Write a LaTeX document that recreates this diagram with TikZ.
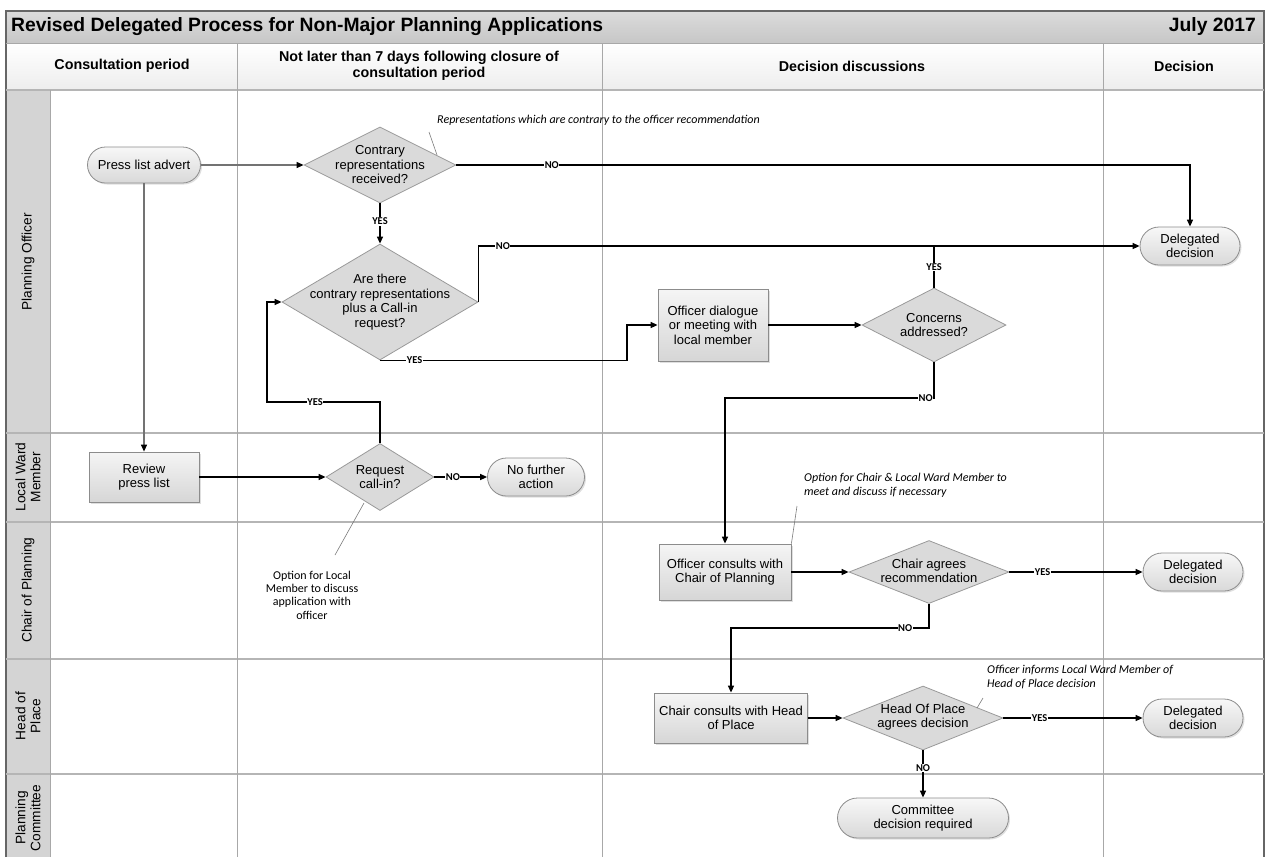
\documentclass[tikz,border=0pt]{standalone}
\usepackage{fontspec}
\setmainfont{Liberation Sans}
\newfontfamily\calfont{Carlito}
\usetikzlibrary{arrows.meta,shapes.geometric,shapes.misc,shadows,calc}
\definecolor{gridc}{HTML}{A8A8A8}
\definecolor{titlec}{HTML}{CFCFCF}
\definecolor{lanec}{HTML}{D4D4D4}
\definecolor{nodeb}{HTML}{8C8C8C}
\definecolor{diac}{HTML}{DADADA}
\definecolor{leadc}{HTML}{7A7A7A}
\tikzset{
  conn/.style={draw=black, line width=1.4pt, -{Triangle[length=7pt,width=6pt]}},
  plainline/.style={draw=black, line width=1.4pt},
  greyconn/.style={draw=black!55, line width=1.1pt, -{Triangle[length=7pt,width=6pt,color=black]}},
  lbl/.style={font=\calfont\bfseries\fontsize{10.5}{11}\selectfont, fill=white, inner sep=0.6pt},
  shadowed/.style={drop shadow={opacity=0.25, shadow xshift=1.5pt, shadow yshift=-1.5pt}},
  boxnode/.style={rectangle, draw=nodeb, line width=0.8pt, top color=black!4, bottom color=black!16, shadowed,
    align=center, font=\fontsize{13}{14.5}\selectfont, inner sep=0pt},
  pill/.style={rounded rectangle, draw=nodeb, line width=0.8pt, top color=black!3, bottom color=black!15, shadowed,
    align=center, font=\fontsize{13}{14.5}\selectfont, inner sep=0pt},
  dia/.style={diamond, draw=black!40, line width=0.8pt, fill=diac, inner sep=0pt},
  dtext/.style={align=center, font=\fontsize{13}{14.5}\selectfont, inner sep=0pt},
  note/.style={font=\calfont\itshape\fontsize{12}{13.5}\selectfont, align=left, inner sep=0pt},
  notereg/.style={font=\calfont\fontsize{12}{13.4}\selectfont, align=center, inner sep=0pt},
  leader/.style={draw=leadc, line width=0.6pt},
  gridline/.style={draw=gridc, line width=1pt},
  laneline/.style={draw=gridc!85, line width=1.6pt},
  lanelabel/.style={rotate=90, align=center, font=\fontsize{13.7}{15}\selectfont, inner sep=0pt},
  headtext/.style={align=center, font=\bfseries\fontsize{14.3}{16}\selectfont, inner sep=0pt},
}
\begin{document}
\begin{tikzpicture}[x=1pt,y=-1pt]
\useasboundingbox (0,0) rectangle (1268,857);
% ---------- frame ----------
\shade[top color=black!14, bottom color=black!22] (6,11) rectangle (1264,43);
\shade[top color=white, bottom color=black!7] (6,43) rectangle (1264,90);
\fill[lanec] (6,90) rectangle (50,857);
\draw[draw=black!60, line width=1.2pt] (6,857) -- (6,11) -- (1264,11) -- (1264,857);
\draw[gridline] (6,43) -- (1264,43);
\draw[laneline] (6,90) -- (1264,90);
\foreach \yy in {433,522,659,774} \draw[laneline] (6,\yy) -- (1264,\yy);
\foreach \xx in {237,602,1103} \draw[gridline] (\xx,43) -- (\xx,857);
\draw[gridline] (50,90) -- (50,857);
% ---------- titles ----------
\node[anchor=west, font=\bfseries\fontsize{19.3}{21}\selectfont, inner sep=0pt] (title) at (11,27) {Revised Delegated Process for Non-Major Planning Applications};
\node[anchor=east, font=\bfseries\fontsize{19.3}{21}\selectfont, inner sep=0pt] (date) at (1256,27) {July 2017};
\node[headtext] (h1) at (122,66) {Consultation period};
\node[headtext] (h2) at (419,66) {Not later than 7 days following closure of\\consultation period};
\node[headtext] (h3) at (852,66) {Decision discussions};
\node[headtext] (h4) at (1184,66) {Decision};
% lane labels
\node[lanelabel] (l1) at (28,262) {Planning Officer};
\node[lanelabel] (l2) at (28,477) {Local Ward\\Member};
\node[lanelabel] (l3) at (28,590) {Chair of Planning};
\node[lanelabel] (l4) at (28,716) {Head of\\Place};
\node[lanelabel] (l5) at (28,818) {Planning\\Committee};
% ---------- nodes ----------
\node[pill, minimum width=113pt, minimum height=36pt] (pla) at (144,165) {Press list advert};
\node[dia, minimum width=152pt, minimum height=76pt] (d1) at (380,165) {};
\node[dtext] (d1t) at (380,165) {Contrary\\representations\\received?};
\node[dia, minimum width=196pt, minimum height=116pt] (d2) at (380,302) {};
\node[dtext] (d2t) at (380,302) {Are there\\contrary representations\\plus a Call-in\\request?};
\node[pill, minimum width=100pt, minimum height=38pt] (dd1) at (1190,246) {Delegated\\decision};
\node[boxnode, minimum width=110pt, minimum height=72pt] (od) at (713,325) {Officer dialogue\\or meeting with\\local member};
\node[dia, minimum width=144pt, minimum height=74pt] (ca) at (934,325) {};
\node[dtext] (cat) at (934,325) {Concerns\\addressed?};
\node[boxnode, minimum width=110pt, minimum height=50pt] (rpl) at (144,477) {Review\\press list};
\node[dia, minimum width=108pt, minimum height=67pt] (rci) at (380,477) {};
\node[dtext] (rcit) at (380,477) {Request\\call-in?};
\node[pill, minimum width=97pt, minimum height=38pt] (nfa) at (536,477) {No further\\action};
\node[boxnode, minimum width=132pt, minimum height=56pt] (occ) at (725,572) {Officer consults with\\Chair of Planning};
\node[dia, minimum width=160pt, minimum height=63pt] (cad) at (929,572) {};
\node[dtext] (cadt) at (929,571) {Chair agrees\\recommendation};
\node[pill, minimum width=100pt, minimum height=38pt] (dd2) at (1193,572) {Delegated\\decision};
\node[boxnode, minimum width=153pt, minimum height=50pt] (chp) at (731,718) {Chair consults with Head\\of Place};
\node[dia, minimum width=160pt, minimum height=64pt] (hpd) at (923,718) {};
\node[dtext] (hpdt) at (923,717) {Head Of Place\\agrees decision};
\node[pill, minimum width=100pt, minimum height=38pt] (dd3) at (1193,718) {Delegated\\decision};
\node[pill, minimum width=171pt, minimum height=40pt] (cdr) at (923,818) {Committee\\decision required};
% junction coordinates
\coordinate (j1) at (627,325);
\coordinate (j2) at (725,398);
\coordinate (j3) at (267,402);
\coordinate (j4) at (731,628);
% ---------- connectors ----------
\draw[greyconn] (pla.east) -- (d1.west);
\draw[greyconn] (pla.south) -- (rpl.north);
\draw[conn] (d1.south) -- node[lbl, pos=0.45]{YES} (d2.north);
\draw[conn] (d1.east) -- node[lbl, pos=0.13]{NO} (d1.east -| dd1.north) -- (dd1.north);
\draw[conn] (d2.east) -- (d2.east |- dd1.west) -- node[lbl, pos=0.037]{NO} (dd1.west);
\draw[conn] (d2.south) -- node[lbl, pos=0.14]{YES} (d2.south -| j1) -- (j1) -- (od.west);
\draw[conn] (od.east) -- (ca.west);
\draw[plainline] (ca.north) -- node[lbl]{YES} (ca.north |- dd1.west);
\draw[conn] (ca.south) -- (ca.south |- j2) -- node[lbl, pos=0.04]{NO} (j2) -- (occ.north);
\draw[conn] (rpl.east) -- (rci.west);
\draw[conn] (rci.north) -- (rci.north |- j3) -- node[lbl, pos=0.575]{YES} (j3) -- (j3 |- d2.west) -- (d2.west);
\draw[conn] (rci.east) -- node[lbl, pos=0.35]{NO} (nfa.west);
\draw[conn] (occ.east) -- (cad.west);
\draw[conn] (cad.east) -- node[lbl, pos=0.25]{YES} (dd2.west);
\draw[conn] (cad.south) -- (cad.south |- j4) -- node[lbl, pos=0.12]{NO} (j4) -- (chp.north);
\draw[conn] (chp.east) -- (hpd.west);
\draw[conn] (hpd.east) -- node[lbl, pos=0.26]{YES} (dd3.west);
\draw[conn] (hpd.south) -- node[lbl, pos=0.38]{NO} (cdr.north);
% ---------- notes ----------
\node[note, anchor=west] (n1) at (437,120) {Representations which are contrary to the officer recommendation};
\coordinate (n1a) at (429,132);
\coordinate (n1b) at (437,155);
\draw[leader] (n1a) -- (n1b);
\node[notereg] (n2) at (312,595) {Option for Local\\Member to discuss\\application with\\officer};
\coordinate (n2a) at (335,555);
\coordinate (n2b) at (364,503);
\draw[leader] (n2a) -- (n2b);
\node[note, anchor=north west] (n3) at (804,473) {Option for Chair \& Local Ward Member to\\meet and discuss if necessary};
\coordinate (n3a) at (797,506);
\draw[leader] (n3a) -- (occ.north east);
\node[note, anchor=north west] (n4) at (987,665) {Officer informs Local Ward Member of\\Head of Place decision};
\coordinate (n4a) at (983,698);
\coordinate (n4b) at (977,708);
\draw[leader] (n4a) -- (n4b);
\end{tikzpicture}
\end{document}
